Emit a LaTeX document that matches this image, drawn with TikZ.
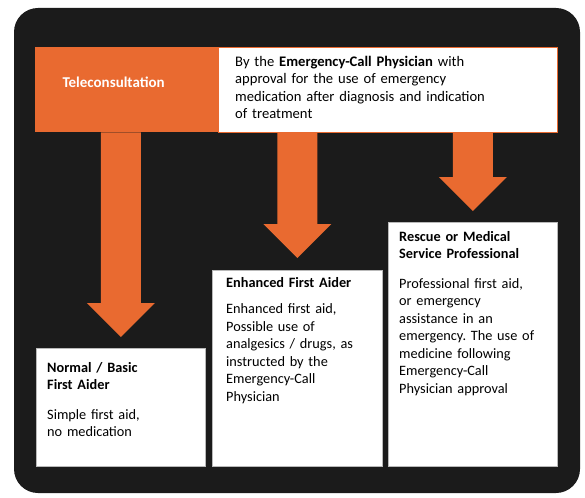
\documentclass[tikz,border=0pt]{standalone}
\usepackage{fontspec}
\setmainfont{Carlito}
\usetikzlibrary{calc}
\definecolor{callorange}{RGB}{233,106,48}
\definecolor{panelblack}{RGB}{27,27,27}
\frenchspacing
% block arrow: shaft from #1 down to the tip #2
\newcommand{\blockarrow}[2]{%
	\fill[callorange] let \p1=(#1), \p2=(#2) in
		(\x1-20pt,\y1) -- (\x1-20pt,\y2+34pt) -- (\x1-34pt,\y2+34pt) -- (\x2,\y2)
		-- (\x1+34pt,\y2+34pt) -- (\x1+20pt,\y2+34pt) -- (\x1+20pt,\y1) -- cycle;}
\begin{document}
\begin{tikzpicture}[x=1pt,y=-1pt,line join=miter,
		box/.style={draw=gray!55,line width=0.6pt,fill=white,anchor=north west,minimum width=169pt,inner sep=0pt},
		boxtext/.style={anchor=north west,inner sep=0pt,align=left,text width=160pt,font=\fontsize{14.3}{17.5}\selectfont}]
		\useasboundingbox (0,0) rectangle (585,497);
		\fill[panelblack,rounded corners=24pt] (14,8) rectangle (580,493);
		% top bar
		\node[fill=callorange,anchor=north west,minimum width=183pt,minimum height=85pt,inner sep=0pt] (tele) at (35,47) {};
		\node[draw=callorange,fill=white,line width=0.8pt,anchor=north west,minimum width=339pt,minimum height=85pt,inner sep=0pt] (call) at (218,47) {};
		\node[anchor=base west,text=white,font=\fontsize{15}{17}\selectfont\bfseries] (telelabel) at (59,88) {Teleconsultation};
		\node[anchor=north west,inner sep=0pt,align=left,text width=310pt,font=\fontsize{14.6}{17.3}\selectfont] (calltext) at (235,56)
			{By the \textbf{Emergency-Call Physician} with\\approval for the use of emergency\\medication after diagnosis and indication\\of treatment};
		% the three levels
		\node[box,minimum height=118pt] (basic) at (36,348) {};
		\node[box,minimum width=170pt,minimum height=196pt] (enhanced) at (212,270) {};
		\node[box,minimum height=244pt] (rescue) at (388,222) {};
		\node[boxtext] (basictext) at ([xshift=11pt,yshift=-14pt]basic.north west)
			{\textbf{Normal / Basic}\\\textbf{First Aider}\\[12pt]Simple first aid,\\no medication};
		\node[boxtext] (enhancedtext) at ([xshift=14pt,yshift=-7pt]enhanced.north west)
			{\textbf{Enhanced First Aider}\\[9pt]Enhanced first aid,\\Possible use of\\analgesics / drugs, as\\instructed by the\\Emergency-Call\\Physician};
		\node[boxtext] (rescuetext) at ([xshift=11pt,yshift=-9pt]rescue.north west)
			{\textbf{Rescue or Medical}\\\textbf{Service Professional}\\[12pt]Professional first aid,\\or emergency\\assistance in an\\emergency. The use of\\medicine following\\Emergency-Call\\Physician approval};
		% arrows
		\blockarrow{basic.north |- tele.south}{[yshift=11pt]basic.north}
		\blockarrow{enhanced.north |- call.south}{[yshift=12pt]enhanced.north}
		\blockarrow{rescue.north |- call.south}{[yshift=11pt]rescue.north}
	\end{tikzpicture}
\end{document}
